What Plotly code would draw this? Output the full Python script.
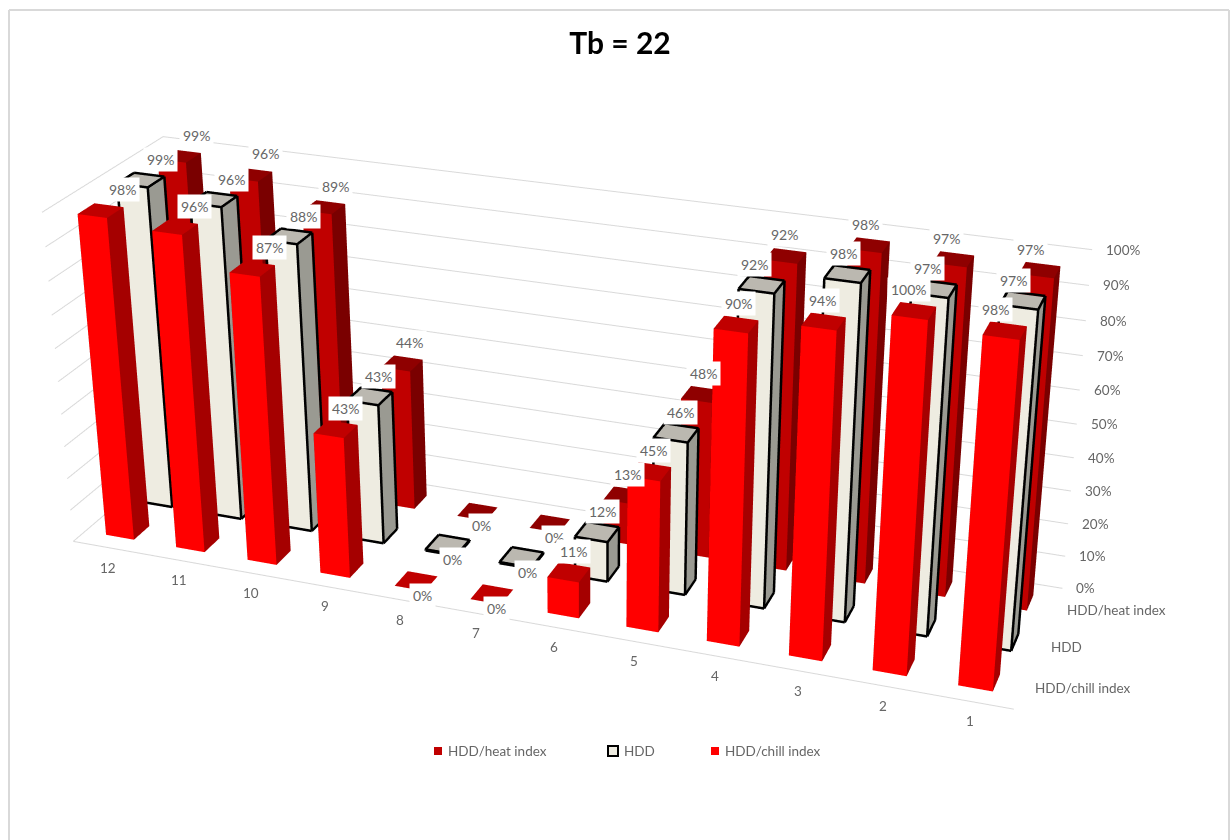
import plotly.graph_objects as go

# Months run left to right from December down to January
months = [12, 11, 10, 9, 8, 7, 6, 5, 4, 3, 2, 1]
series_names = ["HDD/chill index", "HDD", "HDD/heat index"]
chill_pct = [98, 96, 87, 43, 0, 0, 11, 45, 90, 94, 100, 98]
hdd_pct = [99, 96, 88, 43, 0, 0, 12, 46, 92, 98, 97, 97]
heat_pct = [99, 96, 89, 44, 0, 0, 13, 48, 92, 98, 97, 97]
pct_ticks = list(range(0, 101, 10))

# Value-label offsets in pixels from the top centre of each bar
chill_dx = [22, 19, 17, 10, 6, 5, 5, 4, 2, -1, -5, -9]
hdd_dx = [20, 18, 14, 9, 5, 6, 5, 4, -7, -4, -6, -9]
heat_dx = [17, 15, 12, 8, 4, 5, 4, 2, -1, -4, -7, -9]
# Vertical nudges for the series names along the floor edge
name_dy = [0, -1, -3]

W, H = 1232, 840
TEXT = "#666666"
GRID = "#D9D9D9"
FONT = "Lato"
BAR_HALF = 0.2

# Camera and oblique skew of the 3-D box; the long lens is emulated by the skew
EYE = (0.2727, -0.6556, 0.7986)
CENTER = (0.0529, 0.0343, -0.0477)
UP = (-0.0009, -0.0024, 1.0)
ASPECT_Y, ASPECT_Z = 0.1559, 0.2759
SKEW_XY, SKEW_XZ, SKEW_YX, SKEW_YZ = 0.0410, -0.0665, 0.7259, 1.3736
PAD = 5.0


def sx(x, y, z):
    return x + 12 * (SKEW_XY * (y / 3 - 0.5) + SKEW_XZ * (z / 100 - 0.5))


def sy(x, y, z):
    return y + 3 * (SKEW_YX * (x / 12 - 0.5) + SKEW_YZ * (z / 100 - 0.5))


fig = go.Figure()


def add_bars(vals, depth, front, side, top, edge=False):
    xs, ys, zs, ti, tj, tk, fc = [], [], [], [], [], [], []
    ex, ey, ez = [], [], []
    for c, v in enumerate(vals):
        x0, x1 = c + 0.5 - BAR_HALF, c + 0.5 + BAR_HALF
        y0, y1 = depth + 0.5 - BAR_HALF, depth + 0.5 + BAR_HALF
        b = len(xs)
        for zz in (0, v):
            for a, d in [(x0, y0), (x1, y0), (x1, y1), (x0, y1)]:
                xs.append(sx(a, d, zz))
                ys.append(sy(a, d, zz))
                zs.append(zz)
        faces = [((0, 1, 5), front), ((0, 5, 4), front), ((1, 2, 6), side), ((1, 6, 5), side),
                 ((4, 5, 6), top), ((4, 6, 7), top), ((2, 3, 7), side), ((2, 7, 6), side),
                 ((3, 0, 4), side), ((3, 4, 7), side)]
        for (p, q, r), col in faces:
            ti.append(b + p)
            tj.append(b + q)
            tk.append(b + r)
            fc.append(col)
        if edge:
            # Outline sits just outside the box so the faces never hide it
            e = 0.012
            corners = []
            for zz in (-0.1, v + 0.25):
                for a, d in [(x0 - e, y0 - e), (x1 + e, y0 - e), (x1 + e, y1 + e), (x0 - e, y1 + e)]:
                    corners.append((sx(a, d, zz), sy(a, d, zz), zz))
            for p, q in [(0, 1), (1, 2), (2, 3), (3, 0), (4, 5), (5, 6), (6, 7), (7, 4),
                         (0, 4), (1, 5), (2, 6), (3, 7)]:
                ex += [corners[p][0], corners[q][0], None]
                ey += [corners[p][1], corners[q][1], None]
                ez += [corners[p][2], corners[q][2], None]
    fig.add_trace(go.Mesh3d(x=xs, y=ys, z=zs, i=ti, j=tj, k=tk, facecolor=fc, flatshading=True,
                            lighting=dict(ambient=1, diffuse=0, specular=0, roughness=1, fresnel=0),
                            hoverinfo="skip", showscale=False, name=series_names[depth]))
    if edge:
        fig.add_trace(go.Scatter3d(x=ex, y=ey, z=ez, mode="lines", line=dict(color="black", width=5),
                                   hoverinfo="skip", showlegend=False))


# Wall gridlines and the front floor edge
gx, gy, gz = [], [], []
for t in pct_ticks:
    for a, b in [(0, 0), (0, 3), (12, 3)]:
        gx.append(sx(a, b, t))
        gy.append(sy(a, b, t))
        gz.append(t)
    gx.append(None)
    gy.append(None)
    gz.append(None)
gx += [sx(0, 0, 0), sx(12, 0, 0), None]
gy += [sy(0, 0, 0), sy(12, 0, 0), None]
gz += [0, 0, None]
fig.add_trace(go.Scatter3d(x=gx, y=gy, z=gz, mode="lines", line=dict(color=GRID, width=2),
                           hoverinfo="skip", showlegend=False))

add_bars(chill_pct, 0, "#FF0000", "#A50000", "#C00000")
add_bars(hdd_pct, 1, "#EEECE1", "#9A9A92", "#BBB8B0", edge=True)
add_bars(heat_pct, 2, "#C00000", "#7A0000", "#8F0000")

scene_notes = []


def note(x, y, z, text, **kw):
    scene_notes.append(dict(x=sx(x, y, z), y=sy(x, y, z), z=z, text=text, showarrow=False,
                            font=dict(family=FONT, size=kw.pop("size", 13.5), color=TEXT), **kw))


# Value labels, back row first so the front rows stay on top
for depth, vals, dxs in [(2, heat_pct, heat_dx), (1, hdd_pct, hdd_dx), (0, chill_pct, chill_dx)]:
    for c, (v, dx) in enumerate(zip(vals, dxs)):
        note(c + 0.5, depth + 0.5, v, f"{v}%", xshift=dx, yshift=(-14 if v == 0 else 21),
             bgcolor="white", borderpad=3, size=14)

# Month labels along the front edge
for c, m in enumerate(months):
    note(c + 0.5, 0, 0, str(m), xshift=0, yshift=-20)

# Percentage ticks on the right wall
for t in pct_ticks:
    note(12, 3, t, f"{t}%", xanchor="left", xshift=12)

# Series names along the right floor edge
for depth, (name, dy) in enumerate(zip(series_names, name_dy)):
    note(12, depth + 0.5, 0, name, xanchor="left", xshift=10, yshift=dy)

# Legend drawn in page pixels
legend_items = [(series_names[2], 434, 446, "#C00000", None),
                (series_names[1], 608, 622, "#EEECE1", "black"),
                (series_names[0], 711, 723, "#FF0000", None)]
shapes = []
notes = []
for name, kx, tx, fill, line in legend_items:
    size = 10 if line else 8
    shapes.append(dict(type="rect", xref="paper", yref="paper",
                       x0=kx / W, x1=(kx + size) / W, y0=1 - (751 + size / 2) / H, y1=1 - (751 - size / 2) / H,
                       fillcolor=fill, line=dict(color=line or fill, width=2 if line else 0)))
    notes.append(dict(xref="paper", yref="paper", x=tx / W, y=1 - 751 / H, xanchor="left", yanchor="middle",
                      showarrow=False, text=name, font=dict(family=FONT, size=13.5, color=TEXT)))

# Chart frame
for x0, y0, x1, y1 in [(9, 10, 1229, 10), (9, 10, 9, 840), (1229, 10, 1229, 840)]:
    shapes.append(dict(type="line", xref="paper", yref="paper", x0=x0 / W, x1=x1 / W, y0=1 - y0 / H, y1=1 - y1 / H,
                       line=dict(color=GRID, width=2)))

R = PAD
hidden = dict(visible=False)
fig.update_layout(
    width=W, height=H, margin=dict(l=0, r=0, t=0, b=0), paper_bgcolor="white", showlegend=False,
    title=dict(text="<b>Tb = 22</b>", x=620 / W, xanchor="center", y=1 - 43 / H, yanchor="middle",
               font=dict(family=FONT, size=30, color="black")),
    shapes=shapes, annotations=notes,
    scene=dict(
        domain=dict(x=[0, 1], y=[0, 1]),
        xaxis=dict(hidden, range=[6 - 6 * R, 6 + 6 * R]),
        yaxis=dict(hidden, range=[1.5 - 1.5 * R, 1.5 + 1.5 * R]),
        zaxis=dict(hidden, range=[-10, 110]),
        aspectmode="manual",
        aspectratio=dict(x=R, y=ASPECT_Y * R, z=ASPECT_Z * 1.2),
        camera=dict(eye=dict(x=EYE[0], y=EYE[1], z=EYE[2]),
                    center=dict(x=CENTER[0], y=CENTER[1], z=CENTER[2]),
                    up=dict(x=UP[0], y=UP[1], z=UP[2]),
                    projection=dict(type="perspective")),
        annotations=scene_notes,
    ),
)
fig.write_html("out.html")
